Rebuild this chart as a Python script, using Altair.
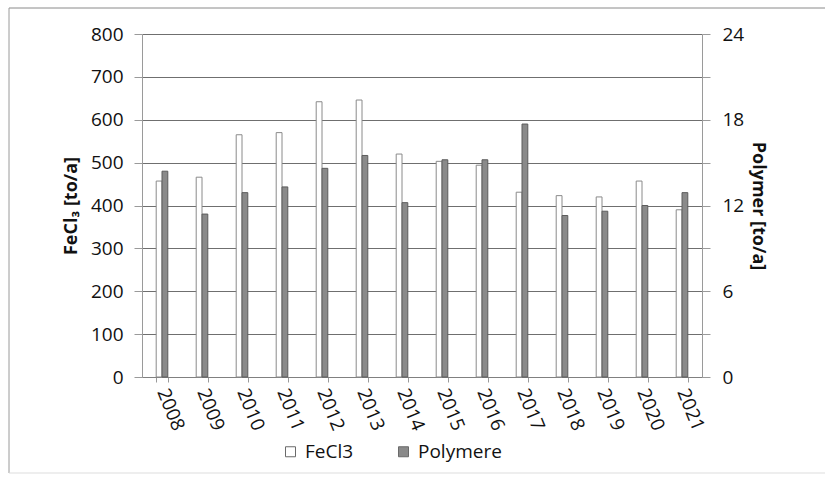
import altair as alt
import pandas as pd

# Annual consumption of precipitant (FeCl3) and polymer
years = ["2008", "2009", "2010", "2011", "2012", "2013", "2014",
         "2015", "2016", "2017", "2018", "2019", "2020", "2021"]
fecl3 = [457, 466, 565, 570, 642, 646, 520, 503, 494, 431, 423, 420, 457, 390]
polymer = [14.4, 11.4, 12.9, 13.3, 14.6, 15.5, 12.2, 15.2, 15.2, 17.7, 11.3, 11.6, 12.0, 12.9]
series = ["FeCl3", "Polymere"]

df = pd.DataFrame(
    [{"year": y, "series": series[0], "value": v} for y, v in zip(years, fecl3)]
    + [{"year": y, "series": series[1], "value": v} for y, v in zip(years, polymer)]
)

FONT = "Open Sans"
GRID = "#6f6f6f"
AXIS = "#9a9a9a"
FS = 19

base = alt.Chart(df).encode(
    x=alt.X(
        "year:N",
        sort=years,
        title=None,
        scale=alt.Scale(paddingInner=0.71, paddingOuter=0.355),
        axis=alt.Axis(
            labelAngle=68, labelAlign="left", labelBaseline="middle",
            labelFontSize=FS, labelFont=FONT, labelColor="#111",
            labelPadding=7, tickSize=5, tickBand="extent",
            tickColor=AXIS, domainColor="#808080", grid=False,
        ),
    ),
    xOffset=alt.XOffset("series:N", scale=alt.Scale(domain=series)),
    color=alt.Color(
        "series:N",
        scale=alt.Scale(domain=series, range=["#ffffff", "#8a8a8a"]),
        legend=alt.Legend(
            title=None, orient="none", legendX=139, legendY=408,
            direction="horizontal", symbolType="square", symbolSize=100,
            symbolStrokeColor="#6a6a6a", symbolStrokeWidth=1,
            labelFontSize=FS, labelFont=FONT, labelColor="#111",
            labelOffset=5, columnPadding=40,
        ),
    ),
)

fecl_bars = base.transform_filter(alt.datum.series == "FeCl3").mark_bar(
    stroke="#8a8a8a", strokeWidth=1
).encode(
    y=alt.Y(
        "value:Q",
        title="FeCl₃ [to/a]",
        scale=alt.Scale(domain=[0, 800], nice=False),
        axis=alt.Axis(
            orient="left", values=list(range(0, 801, 100)),
            labelFontSize=FS, labelFont=FONT, labelColor="#111",
            labelPadding=11, tickSize=8, tickColor=AXIS,
            domainColor=AXIS, grid=True, gridColor=GRID, gridWidth=1,
            titleFontSize=18, titleFont=FONT, titleFontWeight="bold",
            titleColor="#111", titlePadding=10,
        ),
    )
)

poly_bars = base.transform_filter(alt.datum.series == "Polymere").mark_bar(
    stroke="#5c5c5c", strokeWidth=1
).encode(
    y=alt.Y(
        "value:Q",
        title="Polymer [to/a]",
        scale=alt.Scale(domain=[0, 24], nice=False),
        axis=alt.Axis(
            orient="right", values=list(range(0, 25, 3)),
            labelExpr="datum.value % 6 == 0 ? datum.label : ''",
            labelFontSize=FS, labelFont=FONT, labelColor="#111",
            labelPadding=12, tickSize=8, tickColor=AXIS,
            domainColor=AXIS, grid=False,
            titleFontSize=18, titleFont=FONT, titleFontWeight="bold",
            titleColor="#111", titlePadding=5,
        ),
    )
)

# Thin frame around the figure
frame_src = pd.DataFrame({"k": [0]})
frame_top = alt.Chart(frame_src).mark_rule(color="#8a8a8a", strokeWidth=1).encode(
    x=alt.value(-133), x2=alt.value(690), y=alt.value(-26)
)
frame_left = alt.Chart(frame_src).mark_rule(color="#9a9a9a", strokeWidth=1).encode(
    x=alt.value(-133), y=alt.value(-26), y2=alt.value(439)
)
frame_bottom = alt.Chart(frame_src).mark_rule(color="#dddddd", strokeWidth=1).encode(
    x=alt.value(-133), x2=alt.value(690), y=alt.value(439)
)

chart = (
    alt.layer(fecl_bars, poly_bars, frame_top, frame_left, frame_bottom)
    .resolve_scale(y="independent")
    .properties(
        width=560,
        height=343,
        autosize=alt.AutoSizeParams(type="none"),
        padding={"left": 142, "top": 34, "right": 123, "bottom": 100},
        background="white",
    )
    .configure_view(stroke=None)
)

chart.save("out.html", embed_options={"renderer": "svg", "actions": False})
